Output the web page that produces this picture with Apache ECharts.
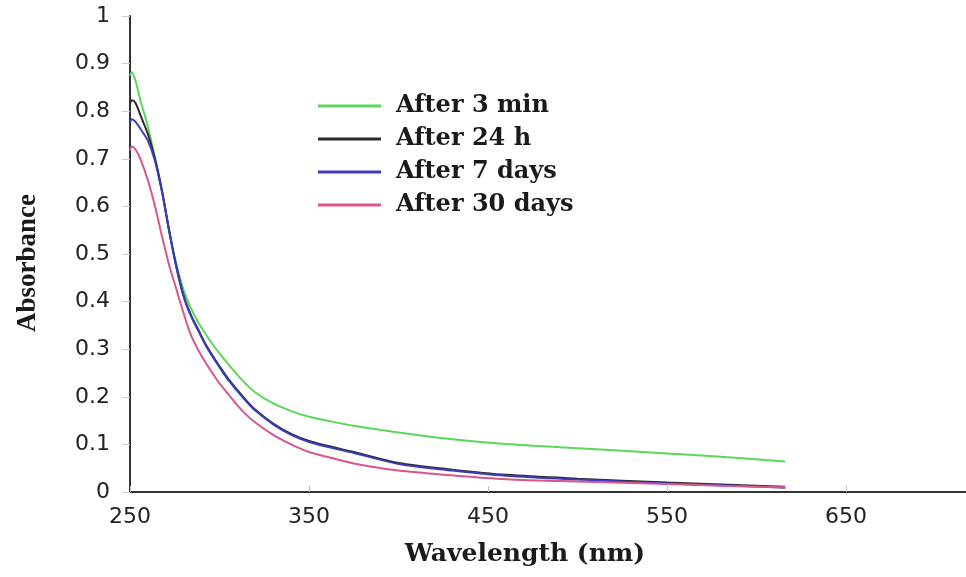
<!DOCTYPE html>
<html>
<head>
<meta charset="utf-8">
<script src="https://cdn.jsdelivr.net/npm/echarts@6/dist/echarts.min.js"></script>
<style>
html,body{margin:0;padding:0;background:#fff;}
#chart{width:966px;height:577px;}
</style>
</head>
<body>
<div id="chart"></div>
<script>
// Wavelength grid (nm)
var wavelengths = [250, 251, 253, 256, 260, 264, 268, 272, 276, 280, 284, 288, 292, 296, 300, 305, 310, 315, 320, 330, 340, 350, 360, 375, 400, 430, 460, 500, 550, 580, 616];
// Absorbance values
var after3min  = [0.875, 0.882, 0.865, 0.820, 0.768, 0.700, 0.629, 0.547, 0.478, 0.424, 0.386, 0.357, 0.333, 0.311, 0.291, 0.268, 0.246, 0.226, 0.209, 0.186, 0.170, 0.158, 0.150, 0.139, 0.125, 0.111, 0.101, 0.092, 0.081, 0.074, 0.064];
var after24h   = [0.815, 0.823, 0.818, 0.790, 0.752, 0.700, 0.631, 0.547, 0.472, 0.412, 0.372, 0.342, 0.312, 0.287, 0.264, 0.237, 0.214, 0.192, 0.173, 0.144, 0.122, 0.107, 0.097, 0.084, 0.061, 0.047, 0.036, 0.028, 0.020, 0.016, 0.011];
var after7days = [0.775, 0.783, 0.778, 0.762, 0.738, 0.695, 0.628, 0.545, 0.470, 0.410, 0.370, 0.340, 0.310, 0.285, 0.262, 0.235, 0.212, 0.190, 0.171, 0.142, 0.120, 0.105, 0.095, 0.082, 0.059, 0.045, 0.034, 0.026, 0.018, 0.014, 0.009];
var after30days= [0.718, 0.726, 0.720, 0.698, 0.655, 0.600, 0.535, 0.475, 0.425, 0.375, 0.330, 0.299, 0.273, 0.250, 0.228, 0.205, 0.182, 0.162, 0.146, 0.120, 0.100, 0.084, 0.074, 0.060, 0.045, 0.035, 0.027, 0.022, 0.017, 0.013, 0.010];
var seriesNames = ['After 3 min', 'After 24 h', 'After 7 days', 'After 30 days'];
var seriesColors = ['#5cd65c', '#2b2b2b', '#3b3bbf', '#d9558c'];
var xTickValues = [250, 350, 450, 550, 650];

function pairs(vals){ return wavelengths.map(function(w,i){ return [w, vals[i]]; }); }
var allVals = [after3min, after24h, after7days, after30days];

var chart = echarts.init(document.getElementById('chart'));
chart.setOption({
  animation: false,
  backgroundColor: '#ffffff',
  grid: {left: 130, right: 0, top: 16, bottom: 85, containLabel: false},
  legend: {
    orient: 'vertical',
    left: 313,
    top: 88,
    itemWidth: 63,
    itemHeight: 3,
    itemGap: 7,
    icon: 'rect',
    data: seriesNames,
    textStyle: {fontFamily: 'DejaVu Serif', fontWeight: 'bold', fontSize: 24, color: '#1a1a1a', lineHeight: 26, padding: [0,0,0,10]}
  },
  xAxis: {
    type: 'value',
    min: 250,
    max: 717,
    interval: 50,
    name: 'Wavelength (nm)',
    nameLocation: 'middle',
    nameGap: 50,
    nameTextStyle: {fontFamily: 'DejaVu Serif', fontWeight: 'bold', fontSize: 25, color: '#1a1a1a', padding: [0, 46, 0, 0]},
    axisLine: {lineStyle: {color: '#333', width: 2}},
    axisTick: {show: true, inside: true, length: 6, lineStyle: {color: '#bbb', width: 1}, customValues: xTickValues},
    axisLabel: {fontFamily: 'DejaVu Sans', fontSize: 22, color: '#222', margin: 14, customValues: xTickValues},
    splitLine: {show: false}
  },
  yAxis: {
    type: 'value',
    min: 0,
    max: 1,
    interval: 0.1,
    name: 'Absorbance',
    nameLocation: 'middle',
    nameRotate: 90,
    nameGap: 88,
    nameTextStyle: {fontFamily: 'Liberation Serif', fontWeight: 'bold', fontSize: 27, color: '#1a1a1a', padding: [0, 18, 0, 0]},
    axisLine: {show: true, lineStyle: {color: '#333', width: 2}},
    axisTick: {show: true, length: 8, lineStyle: {color: '#ccc', width: 1}},
    axisLabel: {fontFamily: 'DejaVu Sans', fontSize: 22, color: '#222', margin: 20},
    splitLine: {show: false}
  },
  series: seriesNames.map(function(n, i){
    return {
      name: n,
      type: 'line',
      data: pairs(allVals[i]),
      smooth: 0.3,
      showSymbol: false,
      color: seriesColors[i],
      lineStyle: {width: 2, color: seriesColors[i]}
    };
  })
});
</script>
</body>
</html>
